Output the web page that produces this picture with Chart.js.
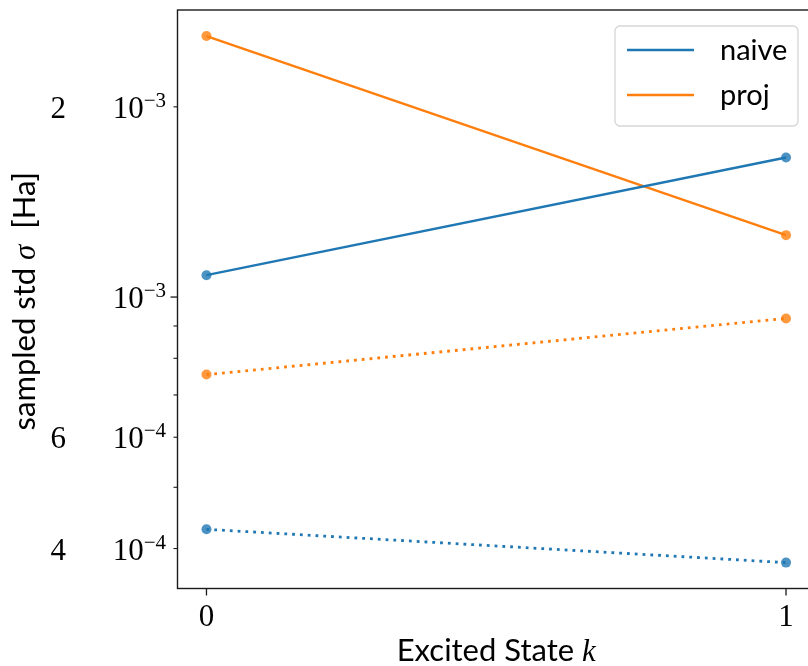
<!DOCTYPE html>
<html>
<head>
<meta charset="utf-8">
<script src="https://cdn.jsdelivr.net/npm/chart.js@4.4.1/dist/chart.umd.min.js"></script>
<style>
  html, body { margin: 0; padding: 0; background: #ffffff; overflow: hidden; }
  #wrap { width: 808px; height: 666px; overflow: hidden; position: relative; }
  canvas { display: block; }
</style>
</head>
<body>
<div id="wrap"><canvas id="chart" width="820" height="666"></canvas></div>
<script>
// Excited state index k
const states = [0, 1];
// Sampled standard deviation sigma [Ha]
const naiveValues = [1.083e-3, 1.663e-3];
const projValues = [2.588e-3, 1.253e-3];
const naiveDottedValues = [4.29e-4, 3.80e-4];
const projDottedValues = [7.54e-4, 9.25e-4];

// Axis ticks
const xTickValues = [0, 1];
const xTickLabels = ['0', '1'];
const yMajorTicks = [1e-3];
const yMinorTicks = [4e-4, 5e-4, 6e-4, 7e-4, 8e-4, 9e-4, 2e-3];
const yLabelValues = [2e-3, 1e-3, 6e-4, 4e-4];
const yLabelLead = ['2', '', '6', '4'];
const yLabelExp = ['\u22123', '\u22123', '\u22124', '\u22124'];

const Y_MIN = 3.458e-4;
const Y_MAX = 2.846e-3;

const BLUE = '#1f77b4';
const ORANGE = '#ff7f0e';
const BLUE_PT = 'rgba(31,119,180,0.8)';
const ORANGE_PT = 'rgba(255,127,14,0.8)';

const SANS = 'Lato, "Open Sans", sans-serif';
const SERIF = '"Liberation Serif", "DejaVu Serif", serif';

const toPoints = vals => states.map((k, i) => ({ x: k, y: vals[i] }));

function lineSet(label, vals, color, ptColor, dashed) {
  return {
    label: label,
    data: toPoints(vals),
    borderColor: color,
    backgroundColor: ptColor,
    pointBackgroundColor: ptColor,
    pointBorderWidth: 0,
    pointRadius: 5,
    borderWidth: dashed ? 2.8 : 2.4,
    borderDash: dashed ? [2.8, 5] : [],
    borderCapStyle: 'butt',
    tension: 0,
    fill: false,
    showInLegend: !dashed
  };
}

// draws a sequence of [text, font] runs starting at x
function drawRuns(ctx, runs, x, y) {
  let cx = x;
  runs.forEach(([t, f]) => {
    ctx.font = f;
    ctx.fillText(t, cx, y);
    cx += ctx.measureText(t).width;
  });
}
function runsWidth(ctx, runs) {
  let w = 0;
  runs.forEach(([t, f]) => { ctx.font = f; w += ctx.measureText(t).width; });
  return w;
}

const axesDecor = {
  id: 'axesDecor',
  afterDraw(chart) {
    const ctx = chart.ctx;
    const area = chart.chartArea;
    const xs = chart.scales.x;
    const ys = chart.scales.y;
    ctx.save();

    // frame
    ctx.strokeStyle = '#1a1a1a';
    ctx.lineWidth = 1.4;
    ctx.strokeRect(area.left, area.top, area.right - area.left, area.bottom - area.top);

    // x ticks
    ctx.lineWidth = 1.3;
    ctx.fillStyle = '#000';
    ctx.textAlign = 'center';
    ctx.textBaseline = 'alphabetic';
    xTickValues.forEach((v, i) => {
      const px = xs.getPixelForValue(v);
      ctx.beginPath();
      ctx.moveTo(px, area.bottom);
      ctx.lineTo(px, area.bottom + 7);
      ctx.stroke();
      ctx.font = '31px ' + SERIF;
      ctx.fillText(xTickLabels[i], px, 626);
    });

    // y ticks
    yMajorTicks.forEach(v => {
      const py = ys.getPixelForValue(v);
      ctx.beginPath();
      ctx.moveTo(area.left - 7, py);
      ctx.lineTo(area.left, py);
      ctx.stroke();
    });
    ctx.lineWidth = 1.1;
    yMinorTicks.forEach(v => {
      const py = ys.getPixelForValue(v);
      ctx.beginPath();
      ctx.moveTo(area.left - 4, py);
      ctx.lineTo(area.left, py);
      ctx.stroke();
    });

    // y tick labels
    yLabelValues.forEach((v, i) => {
      const py = ys.getPixelForValue(v);
      const mainFont = '31px ' + SERIF;
      const supFont = '21px ' + SERIF;
      ctx.font = supFont;
      const supW = ctx.measureText(yLabelExp[i]).width;
      ctx.font = mainFont;
      const baseW = ctx.measureText('10').width;
      const right = 166;
      ctx.textAlign = 'left';
      ctx.fillText('10', right - supW - baseW, py + 11);
      ctx.font = supFont;
      ctx.fillText(yLabelExp[i], right - supW, py + 0);
      if (yLabelLead[i]) {
        ctx.font = mainFont;
        ctx.textAlign = 'right';
        ctx.fillText(yLabelLead[i], 66, py + 11);
      }
    });

    // x axis title
    const xRuns = [['Excited State ', '31px ' + SANS], ['k', 'italic 31px ' + SERIF]];
    const xw = runsWidth(ctx, xRuns);
    const xc = (area.left + area.right) / 2;
    ctx.textAlign = 'left';
    drawRuns(ctx, xRuns, xc - xw / 2, 661);

    // y axis title
    const yRuns = [['sampled std ', '31px ' + SANS], ['\u03c3', 'italic 31px ' + SERIF], ['  [Ha]', '31px ' + SANS]];
    const yw = runsWidth(ctx, yRuns);
    ctx.save();
    ctx.translate(35, (area.top + area.bottom) / 2 + 2);
    ctx.rotate(-Math.PI / 2);
    drawRuns(ctx, yRuns, -yw / 2, 0);
    ctx.restore();

    // legend
    const lx = area.right - 200, ly = 26, lw = 183, lh = 100, r = 5;
    ctx.beginPath();
    ctx.moveTo(lx + r, ly);
    ctx.arcTo(lx + lw, ly, lx + lw, ly + lh, r);
    ctx.arcTo(lx + lw, ly + lh, lx, ly + lh, r);
    ctx.arcTo(lx, ly + lh, lx, ly, r);
    ctx.arcTo(lx, ly, lx + lw, ly, r);
    ctx.closePath();
    ctx.fillStyle = 'rgba(255,255,255,0.8)';
    ctx.fill();
    ctx.strokeStyle = '#d6d6d6';
    ctx.lineWidth = 1.3;
    ctx.stroke();

    const items = chart.data.datasets.filter(d => d.showInLegend);
    items.forEach((d, i) => {
      const yy = 50 + i * 45;
      ctx.strokeStyle = d.borderColor;
      ctx.lineWidth = 2.4;
      ctx.setLineDash([]);
      ctx.beginPath();
      ctx.moveTo(lx + 12, yy);
      ctx.lineTo(lx + 79, yy);
      ctx.stroke();
      ctx.fillStyle = '#000';
      ctx.font = '29px ' + SANS;
      ctx.textAlign = 'left';
      ctx.textBaseline = 'middle';
      ctx.fillText(d.label, lx + 105, yy + 1);
      ctx.textBaseline = 'alphabetic';
    });

    ctx.restore();
  }
};

new Chart(document.getElementById('chart'), {
  type: 'line',
  data: {
    datasets: [
      lineSet('naive', naiveValues, BLUE, BLUE_PT, false),
      lineSet('proj', projValues, ORANGE, ORANGE_PT, false),
      lineSet('naive dotted', naiveDottedValues, BLUE, BLUE_PT, true),
      lineSet('proj dotted', projDottedValues, ORANGE, ORANGE_PT, true)
    ]
  },
  options: {
    responsive: false,
    animation: false,
    layout: { padding: { left: 177.5, top: 10, right: 5, bottom: 77.5 } },
    scales: {
      x: { type: 'linear', min: -0.05, max: 1.05, display: false },
      y: {
        type: 'logarithmic', min: Y_MIN, max: Y_MAX, bounds: 'data', display: false,
        afterDataLimits(scale) { scale.min = Y_MIN; scale.max = Y_MAX; },
        afterBuildTicks(scale) { scale.min = Y_MIN; scale.max = Y_MAX; }
      }
    },
    plugins: {
      legend: { display: false },
      tooltip: { enabled: false }
    }
  },
  plugins: [axesDecor]
});
</script>
</body>
</html>
